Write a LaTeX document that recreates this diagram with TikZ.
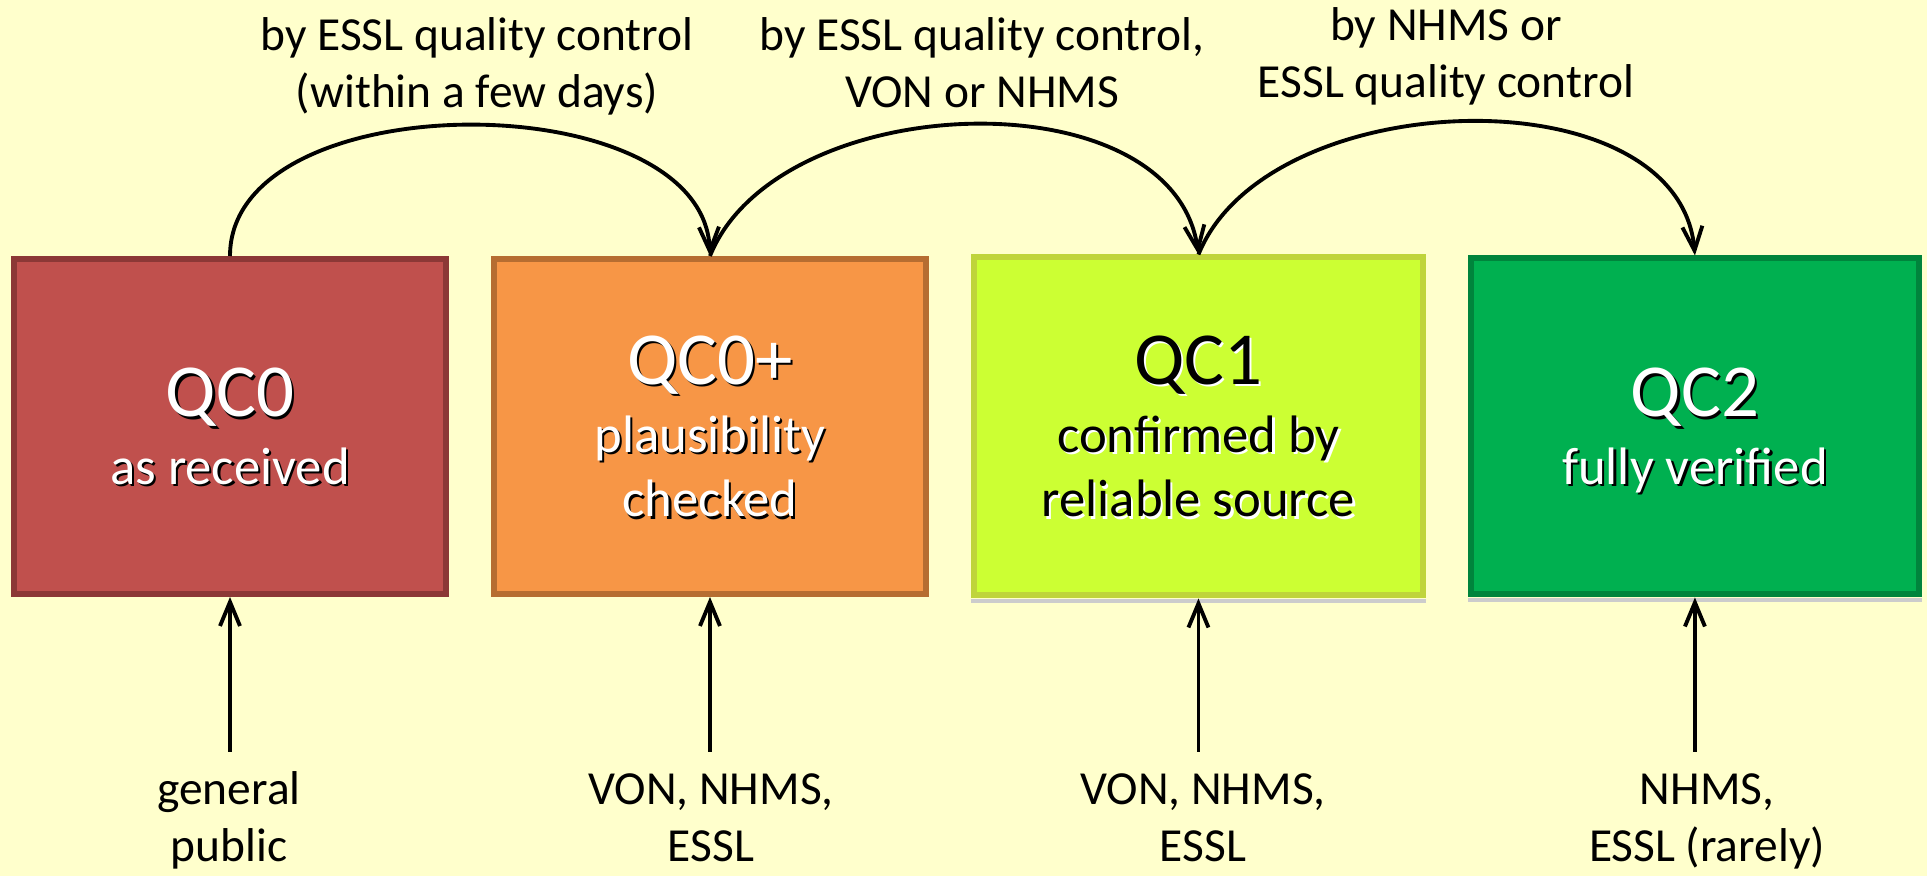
\documentclass[tikz,border=0pt]{standalone}
\usepackage{fontspec}
\setmainfont{Carlito}
\usepackage{tikz}
\usetikzlibrary{arrows.meta,positioning}
\definecolor{bgyellow}{HTML}{FFFFCC}
\definecolor{qczero}{HTML}{C0504D}
\definecolor{qczeroline}{HTML}{8C3836}
\definecolor{qcplus}{HTML}{F79646}
\definecolor{qcplusline}{HTML}{B66D31}
\definecolor{qcone}{HTML}{CCFF33}
\definecolor{qconeline}{HTML}{BFD43B}
\definecolor{qctwo}{HTML}{00B050}
\definecolor{qctwoline}{HTML}{00843C}
\newcommand{\qctitle}{\fontsize{21.3}{24}\selectfont}
\tikzstyle{qcbox}=[rectangle,line width=1.7pt,minimum width=4.32cm,minimum height=3.35cm,inner sep=0pt]
\tikzstyle{qctext}=[align=center,font=\fontsize{15}{18.3}\selectfont,text depth=0pt,inner sep=0pt]
\tikzstyle{note}=[align=center,font=\fontsize{13.5}{16.4}\selectfont,inner sep=0pt,anchor=base]
\tikzstyle{boxshadow}=[fill=black!20]

\begin{document}
\begin{tikzpicture}[node distance=0.42cm,>={Straight Barb[length=0.24cm,width=0.2cm]},line width=1.1pt]
	\useasboundingbox[fill=bgyellow] (0,0) rectangle (19.27,-8.76);
	
	\node[qcbox,fill=qczero,draw=qczeroline]	(qc0)	at (2.30,-4.265)	{};
	\node[qcbox,fill=qcplus,draw=qcplusline]	(qc0p)	[right=of qc0]	{};
	\node[qcbox,fill=qcone,draw=qconeline,minimum width=4.49cm,minimum height=3.38cm]	(qc1)	[right=of qc0p]	{};
	\node[qcbox,fill=qctwo,draw=qctwoline,minimum width=4.48cm,minimum height=3.36cm]	(qc2)	[right=of qc1]	{};
	\fill[boxshadow] ([yshift=-0.01cm]qc1.south west) rectangle ([yshift=-0.05cm]qc1.south east);
	\fill[boxshadow] ([yshift=-0.01cm]qc2.south west) rectangle ([yshift=-0.05cm]qc2.south east);
	
	% text with shadow
	\node[qctext,text=black]	(qc0s)	at ([shift={(0.022,-0.022)}]qc0.center)	{{\qctitle QC0}\\[1pt]as received};
	\node[qctext,text=white]	(qc0t)	at (qc0.center)	{{\qctitle QC0}\\[1pt]as received};
	\node[qctext,text=black]	(qc0ps)	at ([shift={(0.022,-0.022)}]qc0p.center)	{{\qctitle QC0+}\\[1pt]plausibility\\checked};
	\node[qctext,text=white]	(qc0pt)	at (qc0p.center)	{{\qctitle QC0+}\\[1pt]plausibility\\checked};
	\node[qctext,text=white]	(qc1s)	at ([shift={(0.022,-0.022)}]qc1.center)	{{\qctitle QC1}\\[1pt]confirmed by\\reliable source};
	\node[qctext,text=black]	(qc1t)	at (qc1.center)	{{\qctitle QC1}\\[1pt]confirmed by\\reliable source};
	\node[qctext,text=black]	(qc2s)	at ([shift={(0.022,-0.022)}]qc2.center)	{{\qctitle QC2}\\[1pt]fully verified};
	\node[qctext,text=white]	(qc2t)	at (qc2.center)	{{\qctitle QC2}\\[1pt]fully verified};
	
	% transitions
	\node[note]	(by0)	at (4.77,-1.08)	{by ESSL quality control\\(within a few days)};
	\node[note]	(by1)	at (9.82,-1.08)	{by ESSL quality control,\\VON or NHMS};
	\node[note]	(by2)	at (14.46,-0.98)	{by NHMS or\\ESSL quality control};
	\draw[->]	(qc0.north) to[out=90,in=92,looseness=0.93] (qc0p.north);
	\draw[->]	(qc0p.north) to[out=68,in=98,looseness=0.95] (qc1.north);
	\draw[->]	(qc1.north) to[out=68,in=95,looseness=0.95] (qc2.north);
	
	% sources
	\node[note]	(src0)	at (2.29,-8.62)	{general\\public};
	\node[note]	(src1)	at (7.11,-8.62)	{VON, NHMS,\\ESSL};
	\node[note]	(src2)	at (12.03,-8.62)	{VON, NHMS,\\ESSL};
	\node[note]	(src3)	at (17.07,-8.62)	{NHMS,\\ESSL (rarely)};
	\draw[->]	([yshift=1.10cm]src0.base -| qc0) -- (qc0.south);
	\draw[->]	([yshift=1.10cm]src1.base -| qc0p) -- (qc0p.south);
	\draw[->]	([yshift=1.10cm]src2.base -| qc1) -- (qc1.south);
	\draw[->]	([yshift=1.10cm]src3.base -| qc2) -- (qc2.south);
\end{tikzpicture}
\end{document}
